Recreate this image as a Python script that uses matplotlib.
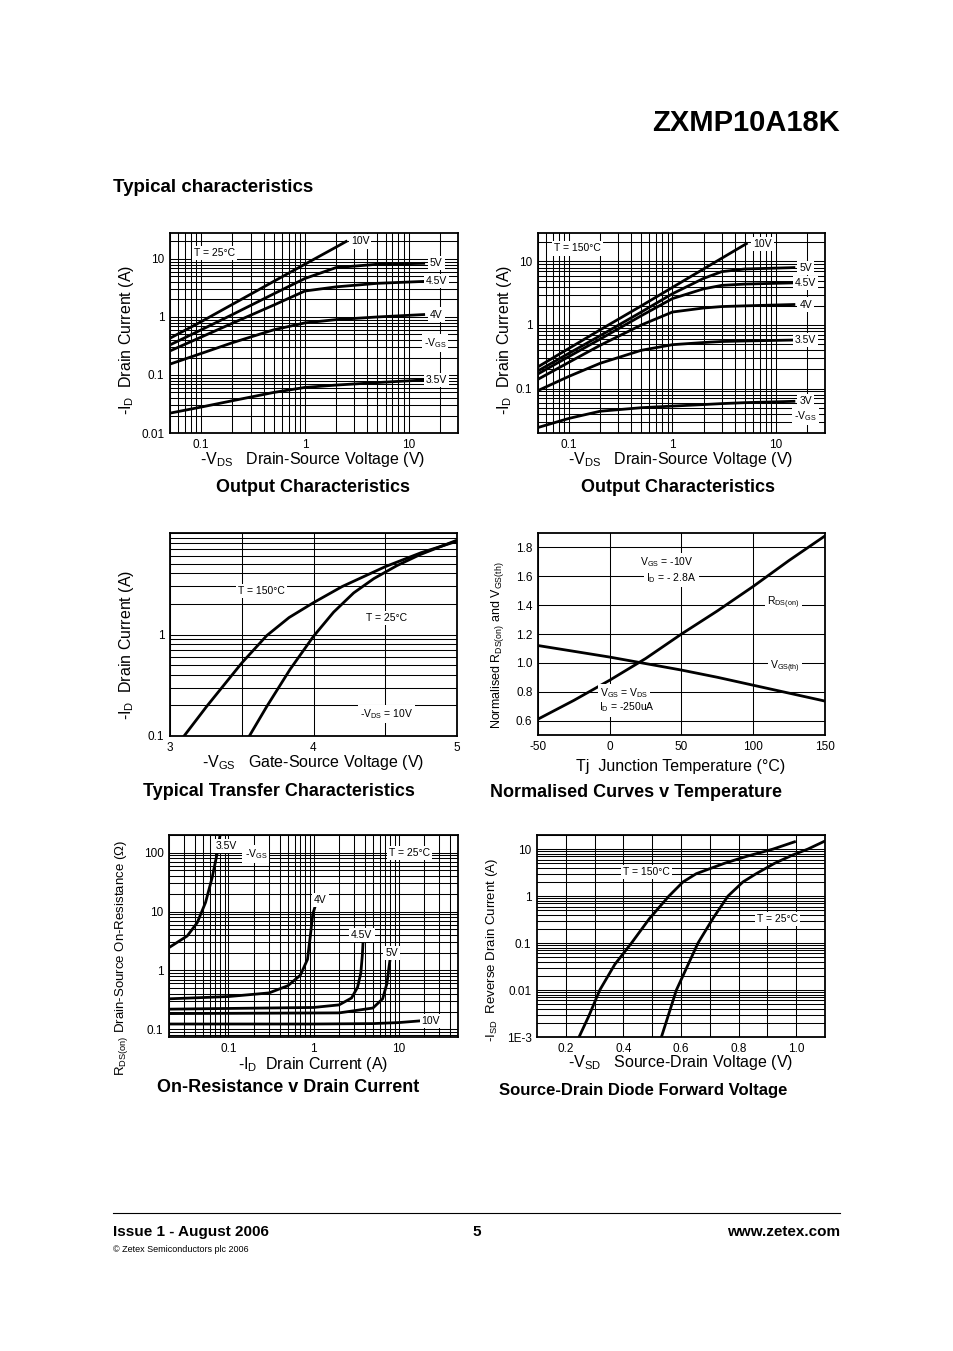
import matplotlib
matplotlib.use("Agg")
import matplotlib.pyplot as plt
from matplotlib.ticker import FixedLocator, NullFormatter, LogLocator, FixedFormatter

plt.rcParams['font.family'] = ['Liberation Sans', 'DejaVu Sans']
plt.rcParams['mathtext.fontset'] = 'custom'
plt.rcParams['mathtext.rm'] = 'Liberation Sans'
plt.rcParams['mathtext.it'] = 'Liberation Sans:italic'
plt.rcParams['mathtext.bf'] = 'Liberation Sans:bold'
plt.rcParams['mathtext.default'] = 'regular'

# ---------------- data ----------------
# Output characteristics, T = 25 C
vds25_10v = [0.05, 0.1, 0.2, 0.5, 1, 2, 2.5]
id25_10v = [0.43, 0.83, 1.65, 4.1, 8.1, 16, 20]
vds25 = [0.05, 0.1, 0.2, 0.5, 1, 2, 5, 14]
id25_5v = [0.33, 0.6, 1.1, 2.5, 4.6, 7.1, 8.1, 8.4]
id25_45v = [0.26, 0.45, 0.78, 1.6, 2.8, 3.3, 3.8, 4.1]
id25_4v = [0.154, 0.235, 0.36, 0.6, 0.79, 0.9, 1.0, 1.1]
id25_35v = [0.022, 0.028, 0.036, 0.05, 0.061, 0.067, 0.074, 0.082]
labels25 = ["10V", "5V", "4.5V", "4V", "-V$_{GS}$", "3.5V"]

# Output characteristics, T = 150 C
vds150_10v = [0.05, 0.1, 0.2, 0.5, 1, 2, 5.2]
id150_10v = [0.22, 0.43, 0.84, 2.0, 3.9, 7.6, 19]
vds150 = [0.05, 0.1, 0.2, 0.5, 1, 2, 3, 5, 15]
id150_5v = [0.19, 0.36, 0.68, 1.6, 3.1, 5.4, 6.9, 7.6, 8.0]
id150_45v = [0.17, 0.32, 0.6, 1.4, 2.6, 3.7, 4.2, 4.4, 4.6]
id150_4v = [0.14, 0.26, 0.48, 1.0, 1.6, 1.85, 1.95, 2.0, 2.1]
id150_35v = [0.093, 0.156, 0.25, 0.4, 0.49, 0.53, 0.55, 0.56, 0.58]
id150_3v = [0.0244, 0.034, 0.044, 0.05, 0.053, 0.056, 0.058, 0.06, 0.063]

# Transfer characteristics (-VDS = 10V)
vgs_150 = [3.098, 3.256, 3.5, 3.674, 3.83, 4.0, 4.2, 4.5, 4.75, 5.0]
id_150 = [0.1, 0.196, 0.524, 0.975, 1.47, 2.06, 2.97, 4.66, 6.4, 8.3]
vgs_25 = [3.553, 3.674, 3.837, 4.0, 4.14, 4.28, 4.42, 4.58, 4.74, 5.0]
id_25 = [0.1, 0.195, 0.454, 0.96, 1.66, 2.57, 3.55, 4.76, 6.1, 8.5]

# Normalised curves v temperature
tj = [-50, -25, 0, 25, 50, 75, 100, 125, 150]
rds_norm = [0.61, 0.74, 0.88, 1.03, 1.2, 1.36, 1.53, 1.71, 1.88]
vth_norm = [1.12, 1.08, 1.04, 0.995, 0.95, 0.9, 0.845, 0.79, 0.735]

# On-resistance v drain current
idr_35 = [0.0205, 0.0328, 0.043, 0.0538, 0.0644, 0.0734, 0.079]
r_35 = [2.5, 3.86, 6.5, 14.3, 38, 95, 184]
idr_4 = [0.0205, 0.1, 0.3, 0.5, 0.7, 0.85, 0.92, 0.98, 1.07]
r_4 = [0.33, 0.36, 0.415, 0.55, 0.83, 1.54, 4.0, 9.0, 13.7]
idr_45 = [0.0205, 1, 2, 2.8, 3.3, 3.6, 3.75, 3.85]
r_45 = [0.22, 0.235, 0.26, 0.34, 0.52, 0.9, 1.8, 3.6]
idr_5 = [0.0205, 2, 5, 6.5, 7.3, 7.7, 8.05]
r_5 = [0.185, 0.19, 0.23, 0.33, 0.6, 1.1, 1.76]
idr_10 = [0.0205, 1, 5, 10, 19]
r_10 = [0.123, 0.123, 0.125, 0.13, 0.14]

# Source-drain diode forward voltage
vsd_150 = [0.246, 0.28, 0.318, 0.37, 0.428, 0.49, 0.558, 0.607, 0.653, 0.751, 0.827, 0.919, 0.994]
isd_150 = [1e-3, 0.0028, 0.01, 0.035, 0.1, 0.33, 1.0, 2.0, 3.0, 5.0, 7.0, 10.0, 14.3]
vsd_25 = [0.532, 0.584, 0.659, 0.713, 0.763, 0.815, 0.861, 0.925, 0.988, 1.04, 1.098]
isd_25 = [1e-3, 0.01, 0.1, 0.35, 1.0, 2.0, 3.0, 5.0, 7.5, 10.0, 14.7]

# ---------------- figure ----------------
W, H = 954, 1351
fig = plt.figure(figsize=(W / 100, H / 100), dpi=100)
fig.patch.set_facecolor('white')

LW = 2.0
GW = 0.75
TICK_FS = 8.5
LAB_FS = 11.5
TITLE_FS = 13
ANN_FS = 7.5
BOX = dict(facecolor='white', edgecolor='none', pad=1.5)


def ax_at(l, t, r, b):
    ax = fig.add_axes([l / W, 1 - b / H, (r - l) / W, (b - t) / H])
    for s in ax.spines.values():
        s.set_linewidth(1.3)
    ax.tick_params(which='both', length=0, labelsize=TICK_FS, pad=4)
    return ax


def txt(x, y, s, **kw):
    kw.setdefault('ha', 'center')
    kw.setdefault('va', 'center')
    fig.text(x / W, 1 - y / H, s, **kw)


def ann(ax, x, y, s):
    ax.text(x, y, s, fontsize=ANN_FS, ha='center', va='center', bbox=BOX)


def log_grid(axis, major_labels):
    axis.set_major_locator(FixedLocator([v for v, _ in major_labels]))
    axis.set_major_formatter(FixedFormatter([s for _, s in major_labels]))
    axis.set_minor_locator(LogLocator(base=10, subs=range(1, 10), numticks=50))
    axis.set_minor_formatter(NullFormatter())


def grid_all(ax):
    ax.grid(which='both', color='black', linewidth=GW)
    ax.set_axisbelow(True)


# ---- Chart 1: output 25C ----
ax1 = ax_at(170, 233, 458, 433)
ax1.set_xscale('log'); ax1.set_yscale('log')
ax1.set_xlim(0.05, 30); ax1.set_ylim(0.01, 28)
log_grid(ax1.xaxis, [(0.1, '0.1'), (1, '1'), (10, '10')])
log_grid(ax1.yaxis, [(0.01, '0.01'), (0.1, '0.1'), (1, '1'), (10, '10')])
grid_all(ax1)
ax1.plot(vds25_10v, id25_10v, color='black', lw=LW)
for ys in [id25_5v, id25_45v, id25_4v, id25_35v]:
    ax1.plot(vds25, ys, color='black', lw=LW)
ann(ax1, 0.135, 12.8, "T = 25°C")
for (lx, ly, s) in [(3.4, 20, labels25[0]), (18.5, 8.4, labels25[1]), (18.5, 4.1, labels25[2]),
                    (18.5, 1.1, labels25[3]), (18.0, 0.36, labels25[4]), (18.5, 0.082, labels25[5])]:
    ann(ax1, lx, ly, s)
txt(127, 340, "-I$_{D}$  Drain Current (A)", fontsize=LAB_FS, rotation=90)
txt(313, 460, "-V$_{DS}$   Drain-Source Voltage (V)", fontsize=LAB_FS)
txt(313, 487, "Output Characteristics", fontsize=TITLE_FS, fontweight='bold')

# ---- Chart 2: output 150C ----
ax2 = ax_at(538, 233, 825, 433)
ax2.set_xscale('log'); ax2.set_yscale('log')
ax2.set_xlim(0.05, 30); ax2.set_ylim(0.02, 28)
log_grid(ax2.xaxis, [(0.1, '0.1'), (1, '1'), (10, '10')])
log_grid(ax2.yaxis, [(0.1, '0.1'), (1, '1'), (10, '10')])
grid_all(ax2)
ax2.plot(vds150_10v, id150_10v, color='black', lw=LW)
for ys in [id150_5v, id150_45v, id150_4v, id150_35v, id150_3v]:
    ax2.plot(vds150, ys, color='black', lw=LW)
ann(ax2, 0.12, 16, "T = 150°C")
for (lx, ly, s) in [(7.5, 19, "10V"), (19.5, 8.0, "5V"), (19.5, 4.6, "4.5V"), (19.5, 2.1, "4V"),
                    (19.5, 0.58, "3.5V"), (19.5, 0.063, "3V"), (19.5, 0.037, "-V$_{GS}$")]:
    ann(ax2, lx, ly, s)
txt(505, 340, "-I$_{D}$  Drain Current (A)", fontsize=LAB_FS, rotation=90)
txt(681, 460, "-V$_{DS}$   Drain-Source Voltage (V)", fontsize=LAB_FS)
txt(678, 488, "Output Characteristics", fontsize=TITLE_FS, fontweight='bold')

# ---- Chart 3: transfer ----
ax3 = ax_at(170, 533, 457, 736)
ax3.set_yscale('log')
ax3.set_xlim(3, 5); ax3.set_ylim(0.1, 10)
ax3.xaxis.set_major_locator(FixedLocator([3, 4, 5]))
ax3.xaxis.set_minor_locator(FixedLocator([3.5, 4.5]))
log_grid(ax3.yaxis, [(0.1, '0.1'), (1, '1')])
grid_all(ax3)
ax3.plot(vgs_150, id_150, color='black', lw=LW)
ax3.plot(vgs_25, id_25, color='black', lw=LW)
ann(ax3, 3.64, 2.7, "T = 150°C")
ann(ax3, 4.51, 1.45, "T = 25°C")
ann(ax3, 4.51, 0.165, "-V$_{DS}$ = 10V")
txt(127, 645, "-I$_{D}$  Drain Current (A)", fontsize=LAB_FS, rotation=90)
txt(313, 763, "-V$_{GS}$   Gate-Source Voltage (V)", fontsize=LAB_FS)
txt(279, 791, "Typical Transfer Characteristics", fontsize=TITLE_FS, fontweight='bold')

# ---- Chart 4: normalised ----
ax4 = ax_at(538, 533, 825, 735)
ax4.set_xlim(-50, 150); ax4.set_ylim(0.5, 1.9)
ax4.set_xticks([-50, 0, 50, 100, 150])
ax4.set_xticklabels(['-50', '0', '50', '100', '150'])
ax4.set_yticks([0.6, 0.8, 1.0, 1.2, 1.4, 1.6, 1.8])
ax4.set_yticklabels(['0.6', '0.8', '1.0', '1.2', '1.4', '1.6', '1.8'])
ax4.grid(which='major', color='black', linewidth=GW)
ax4.set_axisbelow(True)
ax4.plot(tj, rds_norm, color='black', lw=LW)
ax4.plot(tj, vth_norm, color='black', lw=LW)
ann(ax4, 40, 1.7, "V$_{GS}$ = -10V")
ann(ax4, 43, 1.585, "I$_{D}$ = - 2.8A")
ann(ax4, 121, 1.415, "R$_{DS(on)}$")
ann(ax4, 122, 0.975, "V$_{GS(th)}$")
ann(ax4, 10, 0.79, "V$_{GS}$ = V$_{DS}$")
ann(ax4, 12, 0.69, "I$_{D}$ = -250uA")
txt(498, 645, "Normalised R$_{DS(on)}$ and V$_{GS(th)}$", fontsize=9, rotation=90)
txt(681, 766, "Tj  Junction Temperature (°C)", fontsize=LAB_FS)
txt(636, 792, "Normalised Curves v Temperature", fontsize=TITLE_FS, fontweight='bold')

# ---- Chart 5: on-resistance ----
ax5 = ax_at(169, 835, 458, 1037)
ax5.set_xscale('log'); ax5.set_yscale('log')
ax5.set_xlim(0.02, 50); ax5.set_ylim(0.074, 200)
log_grid(ax5.xaxis, [(0.1, '0.1'), (1, '1'), (10, '10')])
log_grid(ax5.yaxis, [(0.1, '0.1'), (1, '1'), (10, '10'), (100, '100')])
grid_all(ax5)
for xs, ys in [(idr_35, r_35), (idr_4, r_4), (idr_45, r_45), (idr_5, r_5), (idr_10, r_10)]:
    ax5.plot(xs, ys, color='black', lw=LW)
for (lx, ly, s) in [(0.094, 130, "3.5V"), (0.21, 95, "-V$_{GS}$"), (1.2, 15.5, "4V"),
                    (3.7, 4.0, "4.5V"), (8.3, 2.0, "5V"), (24, 0.14, "10V")]:
    ann(ax5, lx, ly, s)
ann(ax5, 13.5, 100, "T = 25°C")
txt(122, 958, "R$_{DS(on)}$ Drain-Source On-Resistance ($\\Omega$)", fontsize=9.5, rotation=90)
txt(313, 1064, "-I$_{D}$  Drain Current (A)", fontsize=LAB_FS)
txt(288, 1087, "On-Resistance v Drain Current", fontsize=TITLE_FS, fontweight='bold')

# ---- Chart 6: diode ----
ax6 = ax_at(537, 835, 825, 1037)
ax6.set_yscale('log')
ax6.set_xlim(0.1, 1.1); ax6.set_ylim(1e-3, 20)
ax6.xaxis.set_major_locator(FixedLocator([0.2, 0.4, 0.6, 0.8, 1.0]))
ax6.xaxis.set_major_formatter(FixedFormatter(['0.2', '0.4', '0.6', '0.8', '1.0']))
ax6.xaxis.set_minor_locator(FixedLocator([0.3, 0.5, 0.7, 0.9]))
log_grid(ax6.yaxis, [(1e-3, '1E-3'), (0.01, '0.01'), (0.1, '0.1'), (1, '1'), (10, '10')])
grid_all(ax6)
ax6.plot(vsd_150, isd_150, color='black', lw=LW)
ax6.plot(vsd_25, isd_25, color='black', lw=LW)
ann(ax6, 0.48, 3.3, "T = 150°C")
ann(ax6, 0.935, 0.33, "T = 25°C")
txt(492, 950, "-I$_{SD}$  Reverse Drain Current (A)", fontsize=9.5, rotation=90)
txt(681, 1062, "-V$_{SD}$   Source-Drain Voltage (V)", fontsize=LAB_FS)
txt(643, 1090, "Source-Drain Diode Forward Voltage", fontsize=12, fontweight='bold')

# ---- page text ----
txt(840, 123, "ZXMP10A18K", fontsize=21, fontweight='bold', ha='right')
txt(113, 188, "Typical characteristics", fontsize=13.5, fontweight='bold', ha='left')
fig.add_artist(plt.Line2D([113 / W, 840 / W], [1 - 1213 / H, 1 - 1213 / H], color='black', lw=0.8))
txt(113, 1232, "Issue 1 - August 2006", fontsize=11, fontweight='bold', ha='left')
txt(477, 1232, "5", fontsize=11, fontweight='bold')
txt(840, 1232, "www.zetex.com", fontsize=11, fontweight='bold', ha='right')
txt(113, 1250, "© Zetex Semiconductors plc 2006", fontsize=6.5, ha='left')

fig.savefig("out.png", dpi=100, facecolor='white')
